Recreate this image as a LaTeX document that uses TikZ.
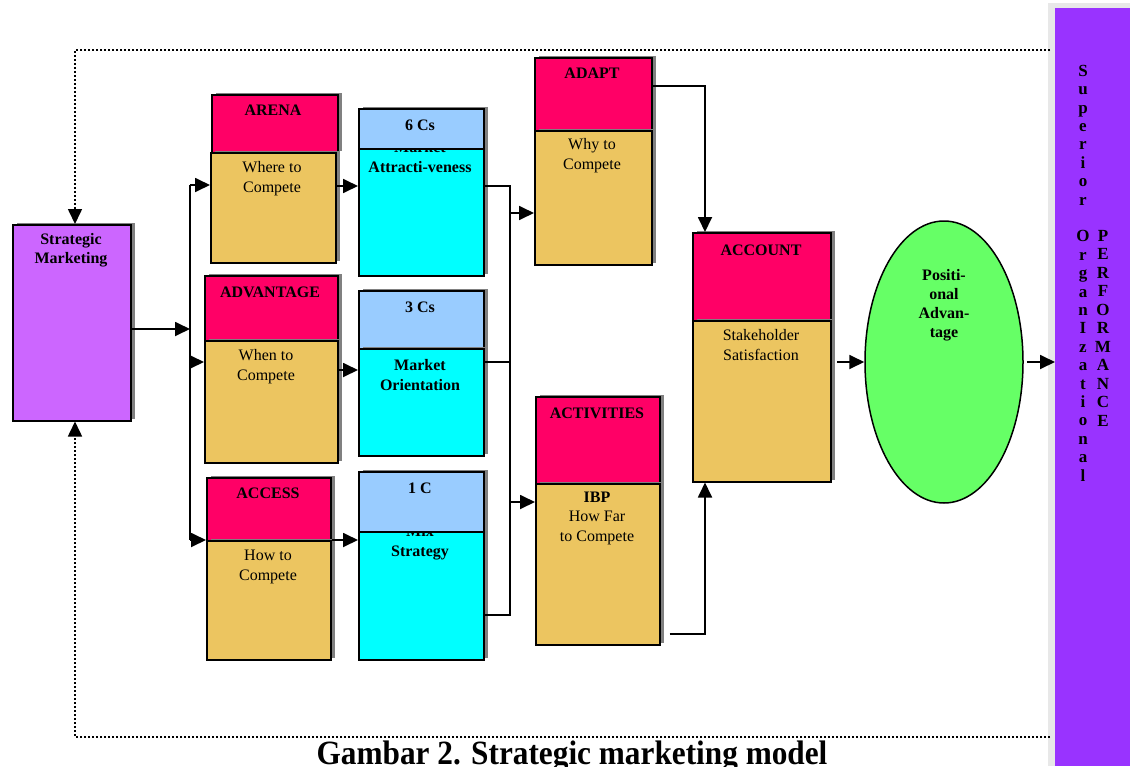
\documentclass[tikz,border=0pt]{standalone}
\usepackage{fontspec}
\setmainfont{Liberation Serif}
\usetikzlibrary{arrows.meta,shapes.geometric,shadows}
\definecolor{smpurple}{RGB}{204,102,255}
\definecolor{hdrpink}{RGB}{255,0,102}
\definecolor{bodtan}{RGB}{236,197,96}
\definecolor{cyanbody}{RGB}{0,255,255}
\definecolor{bluehdr}{RGB}{153,204,255}
\definecolor{ellgreen}{RGB}{102,255,102}
\definecolor{barpurple}{RGB}{153,51,255}
\definecolor{shadowgray}{RGB}{128,128,128}
\definecolor{stripgray}{RGB}{232,232,232}
\begin{document}
\begin{tikzpicture}[x=1pt,y=-1pt,
  bx/.style={draw=black,line width=1.5pt,inner sep=0pt,anchor=north west,
    drop shadow={shadow xshift=4pt,shadow yshift=2pt,fill=shadowgray,opacity=1}},
  hdr/.style={bx,fill=hdrpink},
  bod/.style={bx,fill=bodtan},
  cyb/.style={bx,fill=cyanbody},
  blh/.style={bx,fill=bluehdr},
  lab/.style={inner sep=0pt,anchor=base,align=center,font=\fontsize{16}{19.5}\selectfont},
  blab/.style={lab,font=\fontsize{16}{19.5}\selectfont\bfseries},
  conn/.style={line width=1.8pt},
  arr/.style={conn,-{Triangle[length=15pt,width=14pt]}},
  dots/.style={line width=1.6pt,dash pattern=on 1.6pt off 2.4pt},
]
\useasboundingbox (0,0) rectangle (1130,766);

% right bar
\node[fill=stripgray,inner sep=0pt,anchor=north west,minimum width=82pt,minimum height=763pt] (strip) at (1048,3) {};
\node[fill=barpurple,inner sep=0pt,anchor=north west,minimum width=75pt,minimum height=758pt] (bar) at (1055,8) {};
\node[inner sep=0pt,anchor=base,align=center,font=\fontsize{17}{18.4}\selectfont\bfseries] (sup) at (1083,481)
  {S\\u\\p\\e\\r\\i\\o\\r\\\mbox{}\\O\\r\\g\\a\\n\\I\\z\\a\\t\\i\\o\\n\\a\\l};
\node[inner sep=0pt,anchor=base,align=center,font=\fontsize{17}{18.5}\selectfont\bfseries] (perf) at (1103,426)
  {P\\E\\R\\F\\O\\R\\M\\A\\N\\C\\E};

% strategic marketing
\node[bx,fill=smpurple,minimum width=118pt,minimum height=196pt] (sm) at (12,224) {};
\node[blab,font=\fontsize{16}{18.5}\selectfont\bfseries] (smt) at (71,263) {Strategic\\Marketing};

% column 1
\node[hdr,minimum width=126pt,minimum height=58pt] (arenaH) at (211,94) {};
\node[bod,minimum width=125pt,minimum height=110pt] (arenaB) at (210,152) {};
\node[blab] (arenaT) at (273,115) {ARENA};
\node[lab] (arenaS) at (272,192) {Where to\\Compete};

\node[hdr,minimum width=133pt,minimum height=65pt] (advH) at (204,275) {};
\node[bod,minimum width=133pt,minimum height=122pt] (advB) at (204,340) {};
\node[blab] (advT) at (270,297) {ADVANTAGE};
\node[lab] (advS) at (266,380) {When to\\Compete};

\node[hdr,minimum width=124pt,minimum height=63pt] (accessH) at (206,477) {};
\node[bod,minimum width=124pt,minimum height=119pt] (accessB) at (206,540) {};
\node[blab] (accessT) at (268,498) {ACCESS};
\node[lab] (accessS) at (268,580) {How to\\Compete};

% column 2
\node[cyb,minimum width=125pt,minimum height=127pt] (sixB) at (358,148) {};
\node[blab] (sixS) at (420,172) {Market\\Attracti-veness};
\node[blh,minimum width=125pt,minimum height=40pt] (sixH) at (358,108) {};
\node[blab] (sixT) at (420,130) {6 Cs};

\node[blh,minimum width=125pt,minimum height=58pt] (threeH) at (358,290) {};
\node[cyb,minimum width=125pt,minimum height=107pt] (threeB) at (358,348) {};
\node[blab] (threeT) at (420,312) {3 Cs};
\node[blab] (threeS) at (420,390) {Market\\Orientation};

\node[cyb,minimum width=125pt,minimum height=128pt] (oneB) at (358,531) {};
\node[blab] (oneS) at (420,556) {Mix\\Strategy};
\node[blh,minimum width=125pt,minimum height=60pt] (oneH) at (358,471) {};
\node[blab] (oneT) at (420,493) {1 C};

% column 3
\node[hdr,minimum width=117pt,minimum height=73pt] (adaptH) at (534,57) {};
\node[bod,minimum width=117pt,minimum height=134pt] (adaptB) at (534,130) {};
\node[blab] (adaptT) at (592,78) {ADAPT};
\node[lab] (adaptS) at (592,169) {Why to\\Compete};

\node[hdr,minimum width=124pt,minimum height=87pt] (actH) at (535,396) {};
\node[bod,minimum width=124pt,minimum height=161pt] (actB) at (535,483) {};
\node[blab] (actT) at (597,418) {ACTIVITIES};
\node[lab] (actS) at (597,541) {\textbf{IBP}\\How Far\\to Compete};

% account
\node[hdr,minimum width=138pt,minimum height=88pt] (acctH) at (692,232) {};
\node[bod,minimum width=138pt,minimum height=161pt] (acctB) at (692,320) {};
\node[blab] (acctT) at (761,255) {ACCOUNT};
\node[lab] (acctS) at (761,360) {Stakeholder\\Satisfaction};

% ellipse
\node[ellipse,draw=black,line width=1.5pt,fill=ellgreen,minimum width=158pt,minimum height=282pt,inner sep=0pt] (ell) at (944,362) {};
\node[blab,font=\fontsize{16}{18.7}\selectfont\bfseries] (ellT) at (944,337) {Positi-\\onal\\Advan-\\tage};

% dotted feedback frame
\coordinate (dTL) at (75,50);
\coordinate (dTR) at (1050,50);
\coordinate (dBL) at (75,737);
\coordinate (dBR) at (1050,737);
\draw[dots,-{Triangle[length=15pt,width=14pt]}] (dTR) -- (dTL) -- (dTL |- sm.north);
\draw[dots,-{Triangle[length=15pt,width=14pt]}] (dBR) -- (dBL) -- (dBL |- sm.south);

% bus 1
\coordinate (b1t) at (190,185);
\coordinate (b1m) at (190,329);
\coordinate (b1a) at (190,362);
\coordinate (b1b) at (190,540);
\draw[arr] (sm.east |- b1m) -- (b1m);
\draw[conn] (b1t) -- (b1b);
\draw[arr] (b1t) -- (arenaB.west |- b1t);
\draw[arr] (b1a) -- (advB.west |- b1a);
\draw[arr] (b1b) -- (accessB.west |- b1b);

% column 1 -> column 2
\coordinate (c1) at (340,186);
\coordinate (c2) at (340,370);
\coordinate (c3) at (340,540);
\draw[arr] (arenaB.east |- c1) -- (sixB.west |- c1);
\draw[arr] (advB.east |- c2) -- (threeB.west |- c2);
\draw[arr] (accessB.east |- c3) -- (oneB.west |- c3);

% bus 2
\coordinate (b2t) at (510,186);
\coordinate (b2m) at (510,362);
\coordinate (b2b) at (510,615);
\coordinate (b2a) at (510,213);
\coordinate (b2c) at (510,502);
\draw[conn] (sixB.east |- b2t) -- (b2t) -- (b2b) -- (oneB.east |- b2b);
\draw[conn] (threeB.east |- b2m) -- (b2m);
\draw[arr] (b2a) -- (adaptB.west |- b2a);
\draw[arr] (b2c) -- (actB.west |- b2c);

% to account
\coordinate (k1) at (705,86);
\coordinate (k2) at (705,634);
\draw[arr] (adaptH.east |- k1) -- (k1) -- (k1 |- acctH.north);
\draw[arr] ([xshift=9pt]actB.east |- k2) -- (k2) -- (k2 |- acctB.south);

% to ellipse and bar
\coordinate (k3) at (837,362);
\draw[arr] (k3) -- (ell.west);
\draw[arr] ([xshift=3pt]ell.east) -- (ell.east -| bar.west);

% caption
\node[inner sep=0pt,anchor=base,font=\fontsize{34}{40}\selectfont\bfseries] (cap) at (572,764)
  {\scalebox{0.92}[1]{Gambar 2. Strategic marketing model}};
\end{tikzpicture}
\end{document}
